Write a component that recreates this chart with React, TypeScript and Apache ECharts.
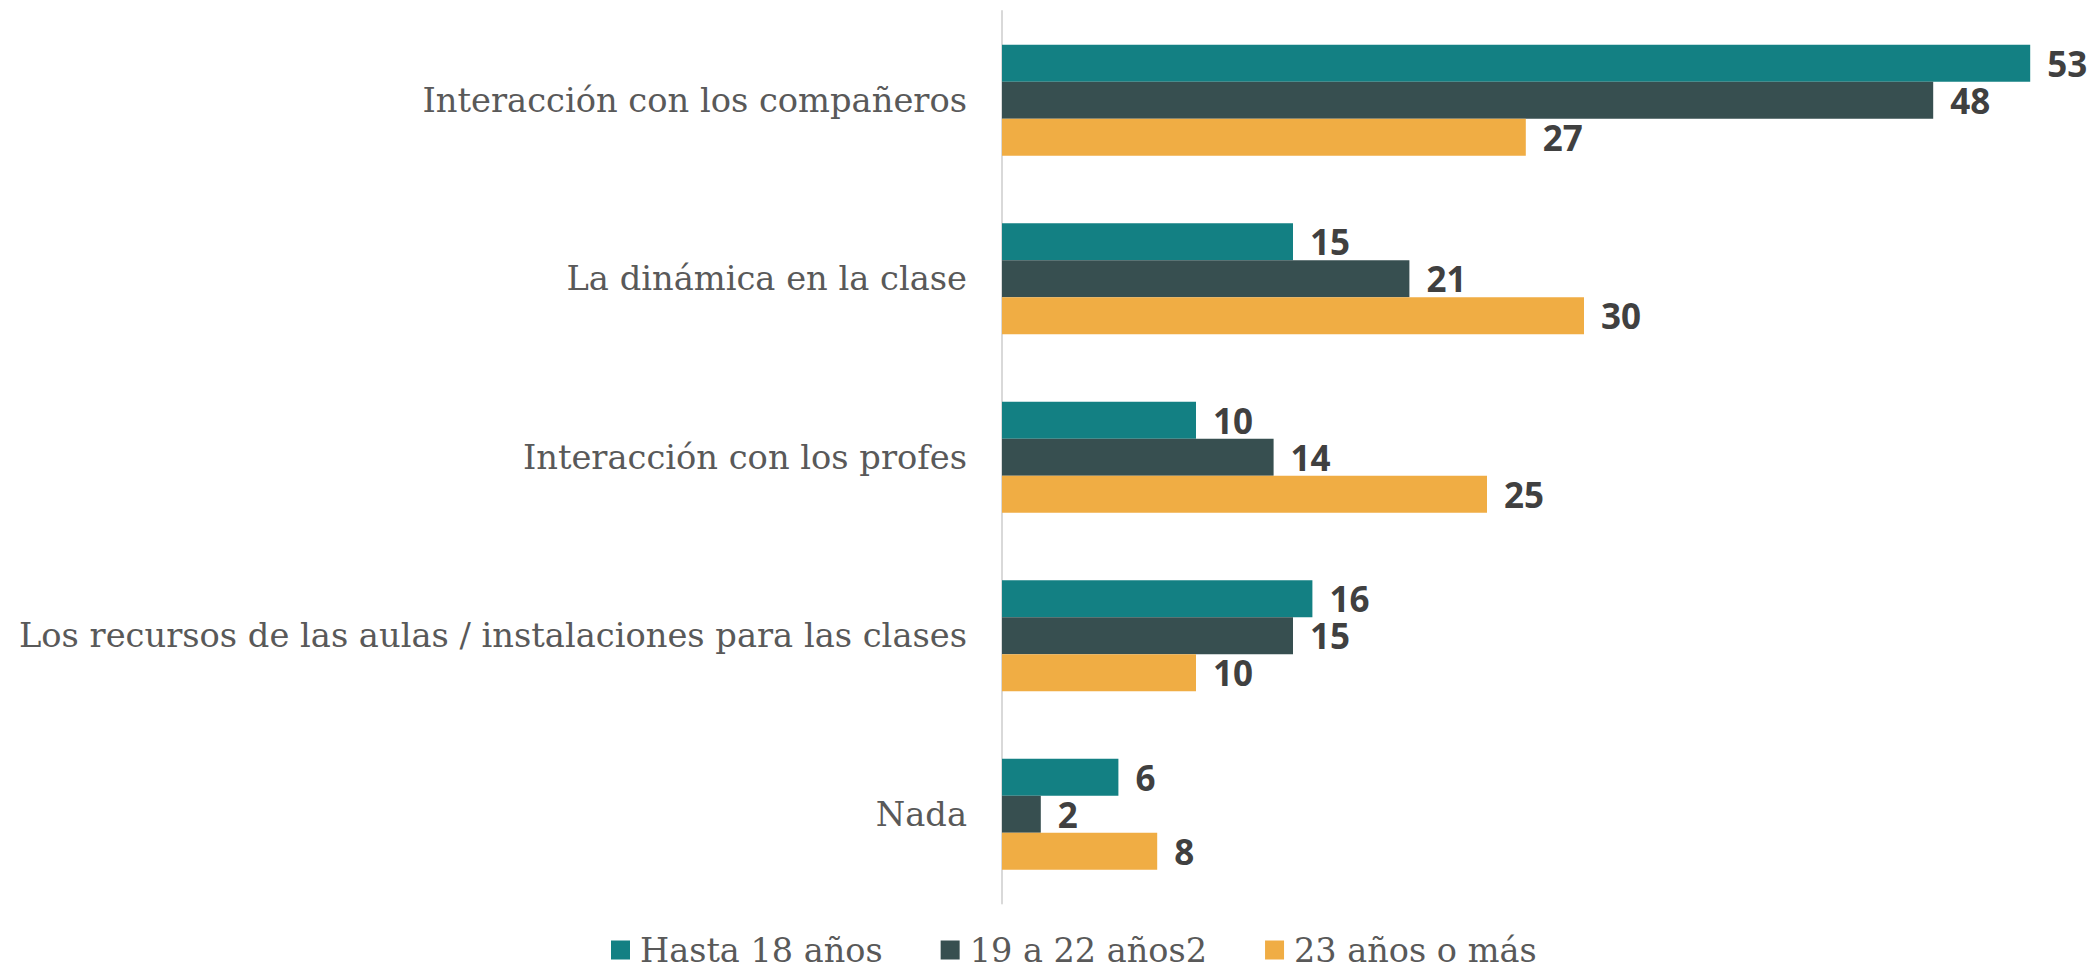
import React, { useEffect, useRef } from "react";
import * as echarts from "echarts";

const categories = [
  "Interacción con los compañeros",
  "La dinámica en la clase",
  "Interacción con los profes",
  "Los recursos de las aulas / instalaciones para las clases",
  "Nada",
];
const seriesNames = ["Hasta 18 años", "19 a 22 años2", "23 años o más"];
const hasta18 = [53, 15, 10, 16, 6];
const de19a22 = [48, 21, 14, 15, 2];
const mas23 = [27, 30, 25, 10, 8];
const colors = ["#138083", "#374F50", "#F0AD44"];

export default function App() {
  const ref = useRef<HTMLDivElement>(null);
  useEffect(() => {
    if (!ref.current) return;
    const chart = echarts.init(ref.current, null, { renderer: "svg" });
    const values = [hasta18, de19a22, mas23];
    chart.setOption({
      animation: false,
      backgroundColor: "#ffffff",
      grid: { left: 1002, top: 11, right: 25, bottom: 68.5, containLabel: false },
      legend: {
        data: seriesNames,
        bottom: 0,
        left: 606,
        itemWidth: 19,
        itemHeight: 19,
        itemGap: 58,
        icon: "rect",
        textStyle: {
          fontFamily: "DejaVu Serif",
          fontSize: 33.5,
          color: "#595959",
          padding: [0, 0, 0, 5],
        },
      },
      xAxis: {
        type: "value",
        min: 0,
        max: 55,
        axisLabel: { show: false },
        splitLine: { show: false },
        axisLine: { show: false },
        axisTick: { show: false },
      },
      yAxis: {
        type: "category",
        inverse: true,
        data: categories,
        axisLine: { show: true, lineStyle: { color: "#D9D9D9", width: 2 } },
        axisTick: { show: false },
        axisLabel: {
          margin: 35,
          fontFamily: "DejaVu Serif",
          fontSize: 33.7,
          color: "#595959",
        },
      },
      series: seriesNames.map((name, i) => ({
        name,
        type: "bar",
        data: values[i],
        barWidth: 37,
        barGap: "0%",
        itemStyle: { color: colors[i] },
        label: {
          show: true,
          position: "right",
          distance: 17,
          fontFamily: "Open Sans",
          fontWeight: "bold",
          fontSize: 35,
          color: "#404040",
        },
      })),
    });
    return () => chart.dispose();
  }, []);
  return (
    <div
      ref={ref}
      style={{ position: "fixed", left: 0, top: 0, width: 2094, height: 972 }}
    />
  );
}
